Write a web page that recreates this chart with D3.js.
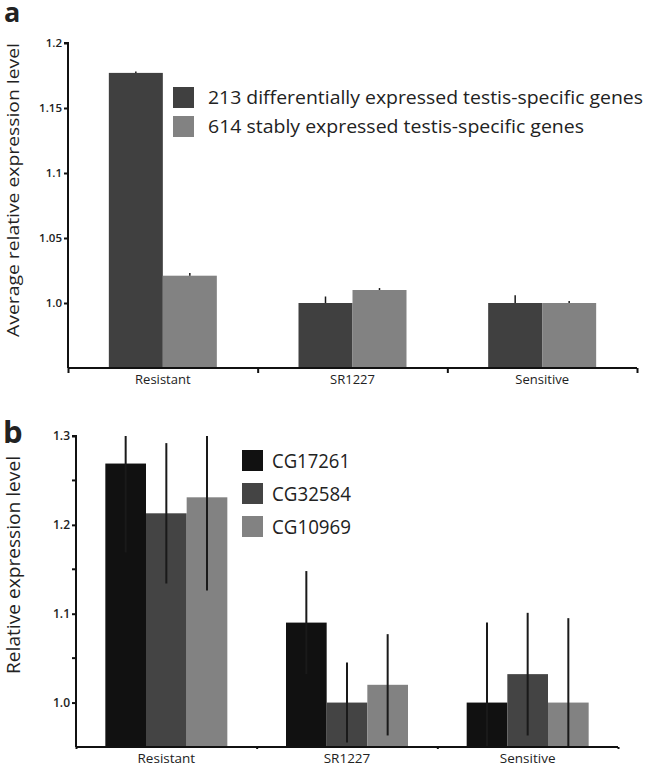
<!DOCTYPE html>
<html><head><meta charset="utf-8">
<script src="https://cdn.jsdelivr.net/npm/d3@7"></script>
<style>body{margin:0;background:#fff}svg{display:block}text{font-family:"Open Sans",sans-serif;fill:#222}</style>
</head><body><svg id="c" width="645" height="768"></svg>
<script>
const categories = ["Resistant", "SR1227", "Sensitive"];
// Panel a
const aSeriesNames = ["213 differentially expressed testis-specific genes", "614 stably expressed testis-specific genes"];
const aDiffValues = [1.177, 1.0, 1.0];
const aDiffErr = [0.001, 0.005, 0.006];
const aStableValues = [1.021, 1.010, 1.0];
const aStableErr = [0.002, 0.0015, 0.0015];
const aTicks = [1.0, 1.05, 1.1, 1.15, 1.2];
const aTickLabels = ["1.0", "1.05", "1.1", "1.15", "1.2"];
// Panel b
const bSeriesNames = ["CG17261", "CG32584", "CG10969"];
const bCG17261 = [1.269, 1.090, 1.0];
const bCG17261Err = [0.10, 0.058, 0.09];
const bCG32584 = [1.213, 1.0, 1.032];
const bCG32584Err = [0.079, 0.045, 0.069];
const bCG10969 = [1.231, 1.020, 1.0];
const bCG10969Err = [0.105, 0.057, 0.095];
const bTicks = [1.0, 1.1, 1.2, 1.3];
const bTickLabels = ["1.0", "1.1", "1.2", "1.3"];
const bMinorTicks = [1.05, 1.15, 1.25];

const svg = d3.select("#c");

function panel(cfg) {
  const g = svg.append("g");
  const x = d3.scaleBand().domain(categories).range([cfg.x0, cfg.x1]).padding(0);
  const xb = d3.scaleLinear().domain([0, categories.length]).range([cfg.x0, cfg.x1]);
  const y = d3.scaleLinear().domain(cfg.yDomain).range([cfg.yBottom, cfg.yTop]);
  const inner = d3.scaleBand().domain(cfg.series.map(s => s.name)).range([0, cfg.groupW]).padding(0);

  cfg.series.forEach(s => {
    const data = categories.map((c, i) => ({c, v: s.values[i], e: s.err[i]}));
    const bx = d => x(d.c) + (x.bandwidth() - cfg.groupW) / 2 + inner(s.name);
    g.selectAll(null).data(data).enter().append("rect")
      .attr("x", bx)
      .attr("width", inner.bandwidth())
      .attr("y", d => y(d.v))
      .attr("height", d => y(cfg.yDomain[0]) - y(d.v))
      .attr("fill", s.color);
    g.selectAll(null).data(data).enter().append("line")
      .attr("x1", d => bx(d) + inner.bandwidth() / 2)
      .attr("x2", d => bx(d) + inner.bandwidth() / 2)
      .attr("y1", d => y(cfg.upOnly ? d.v : Math.max(cfg.yDomain[0], d.v - d.e)))
      .attr("y2", d => y(Math.min(cfg.yDomain[1], d.v + d.e)))
      .attr("stroke", "#1a1a1a").attr("stroke-width", cfg.errW);
  });

  // y axis
  const ya = g.append("g").attr("transform", `translate(${cfg.x0},0)`)
    .call(d3.axisLeft(y).tickValues(cfg.ticks).tickSize(4).tickPadding(2)
      .tickFormat((d, i) => cfg.tickLabels[i]));
  ya.select(".domain").attr("stroke", "#111").attr("stroke-width", 2).attr("d", `M-4,${cfg.yTop}H0V${cfg.yBottom}`);
  ya.selectAll(".tick line").attr("stroke", "#111").attr("stroke-width", 2);
  ya.selectAll(".tick text").attr("font-family", '"Open Sans",sans-serif').attr("font-weight", 600)
    .attr("font-size", cfg.tickFont).attr("fill", "#333");
  if (cfg.minor) {
    g.selectAll(null).data(cfg.minor).enter().append("line")
      .attr("x1", cfg.x0 - 4).attr("x2", cfg.x0).attr("y1", d => y(d)).attr("y2", d => y(d))
      .attr("stroke", "#111").attr("stroke-width", 2);
  }
  // x axis boundaries
  const xa = g.append("g").attr("transform", `translate(0,${cfg.yBottom})`)
    .call(d3.axisBottom(xb).tickValues(d3.range(categories.length + 1)).tickSize(cfg.xTick).tickFormat(""));
  xa.select(".domain").attr("stroke", "#111").attr("stroke-width", 2).attr("d", `M${cfg.x0},0H${cfg.x1}`);
  xa.selectAll(".tick line").attr("stroke", "#111").attr("stroke-width", 2);
  // x labels
  const xl = g.append("g").attr("transform", `translate(0,${cfg.yBottom})`)
    .call(d3.axisBottom(x).tickSize(0).tickPadding(cfg.labelPad));
  xl.select(".domain").remove();
  xl.selectAll(".tick text").attr("font-family", '"Open Sans",sans-serif').attr("font-size", cfg.catFont).attr("fill", "#222");

  // y title
  g.append("text").attr("transform", `translate(${cfg.titleX},${cfg.titleY}) rotate(-90)`)
    .attr("text-anchor", "middle").attr("font-size", cfg.titleFont)
    .attr("textLength", cfg.titleLen).attr("lengthAdjust", "spacingAndGlyphs").text(cfg.title);
  // panel letter
  g.append("text").attr("x", cfg.letterX).attr("y", cfg.letterY).attr("font-size", cfg.letterFont)
    .attr("font-weight", "bold").attr("font-family", '"Liberation Sans",Arial,sans-serif').attr("fill", "#111").text(cfg.letter);
  // legend
  const lg = g.append("g");
  cfg.series.forEach((s, i) => {
    lg.append("rect").attr("x", cfg.legX).attr("y", cfg.legY + i * cfg.legStep)
      .attr("width", cfg.legSw).attr("height", cfg.legSw).attr("fill", s.color);
    lg.append("text").attr("x", cfg.legX + cfg.legSw + cfg.legGap).attr("y", cfg.legY + i * cfg.legStep + cfg.legSw / 2)
      .attr("dy", "0.36em").attr("font-size", cfg.legFont)
      .attr("textLength", cfg.legLens[i]).attr("lengthAdjust", "spacingAndGlyphs").text(s.name);
  });
}

panel({
  x0: 68, x1: 637, yTop: 43, yBottom: 368, yDomain: [0.95, 1.2], groupW: 108,
  series: [
    {name: aSeriesNames[0], values: aDiffValues, err: aDiffErr, color: "#404040"},
    {name: aSeriesNames[1], values: aStableValues, err: aStableErr, color: "#828282"}
  ],
  upOnly: true, errW: 1.5,
  ticks: aTicks, tickLabels: aTickLabels, tickFont: 11.5, xTick: 5, labelPad: 7, catFont: 13,
  title: "Average relative expression level", titleX: 19, titleY: 190, titleFont: 17, titleLen: 294,
  letter: "a", letterX: 4, letterY: 22, letterFont: 27,
  legX: 173, legY: 87, legStep: 29, legSw: 21, legGap: 14, legFont: 18, legLens: [435, 376]
});

panel({
  x0: 76, x1: 618, yTop: 436, yBottom: 747, yDomain: [0.95, 1.3], groupW: 122,
  series: [
    {name: bSeriesNames[0], values: bCG17261, err: bCG17261Err, color: "#111111"},
    {name: bSeriesNames[1], values: bCG32584, err: bCG32584Err, color: "#444444"},
    {name: bSeriesNames[2], values: bCG10969, err: bCG10969Err, color: "#828282"}
  ],
  upOnly: false, errW: 2,
  ticks: bTicks, tickLabels: bTickLabels, minor: bMinorTicks, tickFont: 12, xTick: 2, labelPad: 6, catFont: 13.5,
  title: "Relative expression level", titleX: 20, titleY: 565, titleFont: 18.5, titleLen: 218,
  letter: "b", letterX: 3, letterY: 443, letterFont: 31,
  legX: 242, legY: 450, legStep: 33, legSw: 21, legGap: 9, legFont: 20.5, legLens: [78, 79, 79]
});
</script></body></html>
